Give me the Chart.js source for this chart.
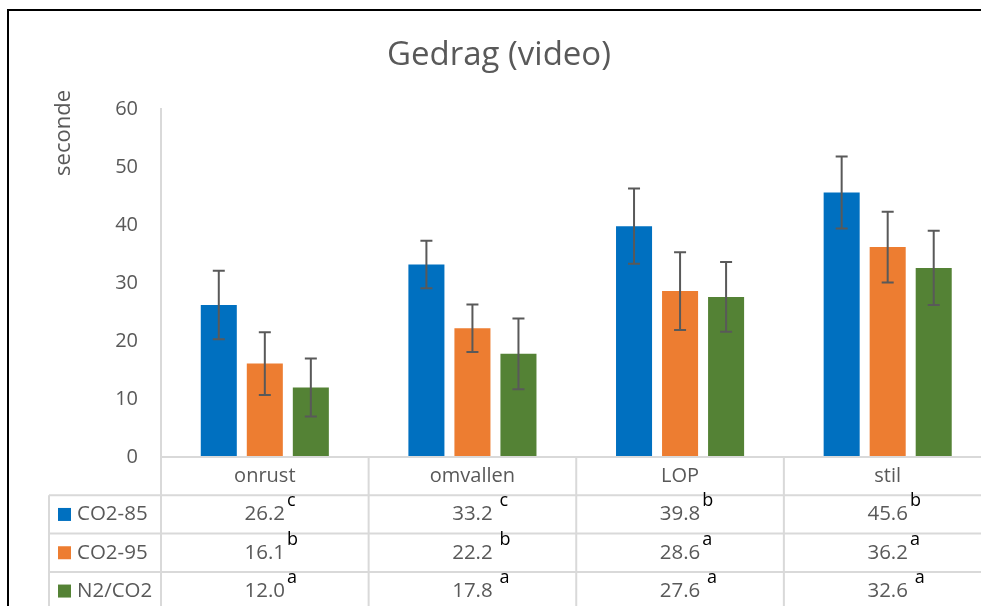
<!DOCTYPE html>
<html lang="nl">
<head>
<meta charset="UTF-8" />
<title>Gedrag (video)</title>
<script src="https://cdn.jsdelivr.net/npm/chart.js"></script>
<style>
  html, body { margin: 0; padding: 0; background: #fff; overflow: hidden; }
  #wrap { position: relative; width: 1000px; height: 606px; }
</style>
</head>
<body>
<div id="wrap"><canvas id="chart"></canvas></div>
<script>
  const categories = ["onrust", "omvallen", "LOP", "stil"];
  const seriesNames = ["CO2-85", "CO2-95", "N2/CO2"];
  const co285 = [26.2, 33.2, 39.8, 45.6];
  const co295 = [16.1, 22.2, 28.6, 36.2];
  const n2co2 = [12.0, 17.8, 27.6, 32.6];
  const err85 = [5.9, 4.1, 6.5, 6.2];
  const err95 = [5.4, 4.1, 6.7, 6.1];
  const errN2 = [5.0, 6.1, 6.0, 6.4];
  const letters85 = ["c", " c", "b", "b"];
  const letters95 = ["b", " b", "a", "a"];
  const lettersN2 = ["a", " a", " a", " a"];
  const yTicks = [0, 10, 20, 30, 40, 50, 60];

  const colors = ["#0070C0", "#ED7D31", "#548235"];
  const values = [co285, co295, n2co2];
  const errors = [err85, err95, errN2];
  const letters = [letters85, letters95, lettersN2];
  const textColor = "#595959";
  const lineColor = "#D9D9D9";
  const font = "'Open Sans', sans-serif";

  const tablePlugin = {
    id: "gedragTable",
    beforeDraw(chart) {
      const ctx = chart.ctx;
      ctx.save();
      ctx.fillStyle = "#fff";
      ctx.fillRect(0, 0, chart.width, chart.height);
      ctx.strokeStyle = "#000";
      ctx.lineWidth = 2;
      ctx.strokeRect(8, 10, chart.width + 50, chart.height + 50);
      ctx.restore();
    },
    afterDatasetsDraw(chart) {
      const ctx = chart.ctx;
      const y = chart.scales.y;
      ctx.save();
      ctx.strokeStyle = textColor;
      ctx.lineWidth = 2;
      values.forEach((vals, d) => {
        const meta = chart.getDatasetMeta(d);
        vals.forEach((v, i) => {
          const x = meta.data[i].x;
          const top = y.getPixelForValue(v + errors[d][i]);
          const bot = y.getPixelForValue(v - errors[d][i]);
          ctx.beginPath();
          ctx.moveTo(x, top); ctx.lineTo(x, bot);
          ctx.moveTo(x - 6, top); ctx.lineTo(x + 6, top);
          ctx.moveTo(x - 6, bot); ctx.lineTo(x + 6, bot);
          ctx.stroke();
        });
      });
      ctx.restore();
    },
    afterDraw(chart) {
      const ctx = chart.ctx;
      const area = chart.chartArea;
      const x = chart.scales.x;
      const rowH = 38.3;
      const legendLeft = 49;
      const top = area.bottom;
      const bottom = chart.height + 10;
      const step = (area.right - area.left) / categories.length;
      ctx.save();

      // title
      ctx.fillStyle = textColor;
      ctx.font = "33px " + font;
      ctx.textAlign = "center";
      ctx.textBaseline = "middle";
      ctx.fillText("Gedrag (video)", 499, 56);

      // y axis title
      ctx.save();
      ctx.translate(64, 90);
      ctx.rotate(-Math.PI / 2);
      ctx.font = "22px " + font;
      ctx.textAlign = "right";
      ctx.textBaseline = "middle";
      ctx.fillText("seconde", 0, 0);
      ctx.restore();

      // table grid
      ctx.strokeStyle = lineColor;
      ctx.lineWidth = 2;
      ctx.beginPath();
      ctx.moveTo(area.left, top); ctx.lineTo(chart.width, top);
      for (let r = 1; r <= seriesNames.length; r++) {
        ctx.moveTo(legendLeft, top + r * rowH);
        ctx.lineTo(chart.width, top + r * rowH);
      }
      ctx.moveTo(legendLeft, top + rowH); ctx.lineTo(legendLeft, bottom);
      for (let c = 0; c <= categories.length; c++) {
        const cx = area.left + c * step;
        ctx.moveTo(cx, c === 0 ? area.bottom : top); ctx.lineTo(cx, bottom);
      }
      ctx.stroke();

      // category labels
      ctx.fillStyle = textColor;
      ctx.font = "20px " + font;
      ctx.textAlign = "center";
      ctx.textBaseline = "middle";
      categories.forEach((c, i) => {
        ctx.fillText(c, x.getPixelForValue(i), top + rowH / 2);
      });

      // rows
      seriesNames.forEach((name, d) => {
        const rowTop = top + (d + 1) * rowH;
        const mid = rowTop + rowH / 2;
        ctx.fillStyle = colors[d];
        ctx.fillRect(58, mid - 6.5, 13, 13);
        ctx.fillStyle = textColor;
        ctx.font = "20.5px " + font;
        ctx.textAlign = "left";
        ctx.fillText(name, 77, mid);
        values[d].forEach((v, i) => {
          const cx = x.getPixelForValue(i);
          const label = v.toFixed(1);
          ctx.font = "20.5px " + font;
          ctx.fillStyle = textColor;
          ctx.textAlign = "center";
          ctx.textBaseline = "middle";
          ctx.fillText(label, cx, mid);
          const w = ctx.measureText(label).width;
          ctx.font = "18px " + font;
          ctx.fillStyle = "#000";
          ctx.textAlign = "left";
          ctx.textBaseline = "top";
          ctx.fillText(letters[d][i], cx + w / 2 + 2, rowTop - 3);
          ctx.textBaseline = "middle";
        });
      });
      ctx.restore();
    }
  };

  new Chart(document.getElementById("chart"), {
    type: "bar",
    data: {
      labels: categories,
      datasets: seriesNames.map((name, d) => ({
        label: name,
        data: values[d],
        backgroundColor: colors[d],
        categoryPercentage: 0.665,
        barPercentage: 0.783
      }))
    },
    options: {
      responsive: true,
      maintainAspectRatio: false,
      animation: false,
      layout: { padding: { top: 109, left: 0, right: 8.5, bottom: 149 } },
      plugins: { legend: { display: false }, tooltip: { enabled: false }, title: { display: false } },
      scales: {
        x: { display: false },
        y: {
          min: 0, max: 60,
          afterFit(scale) { scale.width = 161; },
          afterBuildTicks(scale) { scale.ticks = yTicks.map(v => ({ value: v })); },
          grid: { display: false, drawTicks: false },
          border: { display: true, color: lineColor, width: 2 },
          ticks: { padding: 23, color: textColor, font: { family: "'Open Sans'", size: 20 } }
        }
      }
    },
    plugins: [tablePlugin]
  });
</script>
</body>
</html>
